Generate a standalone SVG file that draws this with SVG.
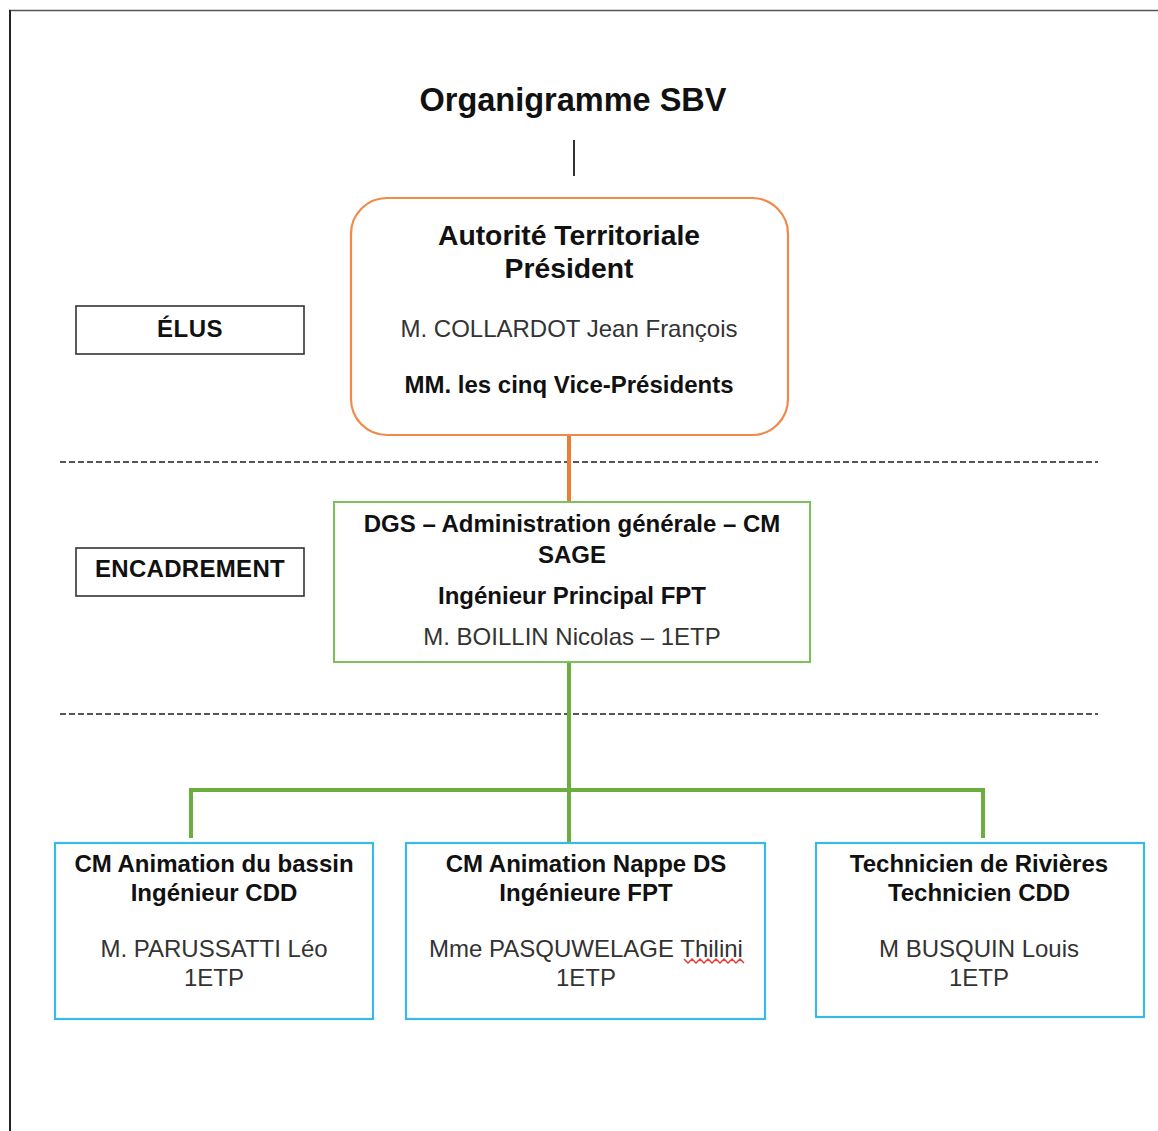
<svg xmlns="http://www.w3.org/2000/svg" width="1158" height="1131" viewBox="0 0 1158 1131">
<style>
text{font-family:"Liberation Sans",Arial,sans-serif;text-anchor:middle}
.b{font-weight:bold;fill:#111}
.r{fill:#333}
.f24{font-size:24px}
.lbl{fill:#fff;stroke:#333;stroke-width:1.6}
.blue{fill:#fff;stroke:#3BB8EA;stroke-width:2.2}
.dash{stroke:#555;stroke-width:2;stroke-dasharray:6 3;fill:none}
.g{stroke:#6BAE3E;stroke-width:4;fill:none}
</style>
<rect width="1158" height="1131" fill="#fff"/>
<g id="frame">
<line x1="9" y1="10.5" x2="1158" y2="10.5" stroke="#555" stroke-width="1.6"/>
<line x1="10" y1="10" x2="10" y2="1131" stroke="#222" stroke-width="2"/>
</g>
<g id="title">
<text x="573" y="111" class="b" font-size="32.5">Organigramme SBV</text>
<line x1="574" y1="140" x2="574" y2="176" stroke="#333" stroke-width="2"/>
</g>
<g id="separators">
<line x1="60" y1="462" x2="1098" y2="462" class="dash"/>
<line x1="60" y1="714" x2="1098" y2="714" class="dash"/>
</g>
<g id="connectors">
<line x1="569" y1="435" x2="569" y2="501" stroke="#ED7D31" stroke-width="4"/>
<line x1="569" y1="662" x2="569" y2="842" class="g"/>
<polyline points="191,838 191,790 983,790 983,838" class="g"/>
</g>
<g id="elus">
<rect x="76" y="306" width="228" height="48" class="lbl"/>
<text x="190" y="337" class="b f24" letter-spacing="0.5">ÉLUS</text>
</g>
<g id="encadrement">
<rect x="76" y="548" width="228" height="48" class="lbl"/>
<text x="190" y="577" class="b f24" font-size="23" letter-spacing="0.3">ENCADREMENT</text>
</g>
<g id="president">
<rect x="351" y="198" width="437" height="237" rx="36" ry="36" fill="#fff" stroke="#F0894A" stroke-width="2.2"/>
<text x="569" y="245" class="b" font-size="28.3">Autorité Territoriale</text>
<text x="569" y="278" class="b" font-size="28.3">Président</text>
<text x="569" y="337" class="r f24">M. COLLARDOT Jean François</text>
<text x="569" y="393" class="b f24">MM. les cinq Vice-Présidents</text>
</g>
<g id="dgs">
<rect x="334" y="502" width="476" height="160" fill="#fff" stroke="#7DC15B" stroke-width="2"/>
<text x="572" y="532" class="b f24">DGS – Administration générale – CM</text>
<text x="572" y="563" class="b f24">SAGE</text>
<text x="572" y="604" class="b f24">Ingénieur Principal FPT</text>
<text x="572" y="645" class="r f24">M. BOILLIN Nicolas – 1ETP</text>
</g>
<g id="bassin">
<rect x="55" y="843" width="318" height="176" class="blue"/>
<text x="214" y="872" class="b f24">CM Animation du bassin</text>
<text x="214" y="901" class="b f24">Ingénieur CDD</text>
<text x="214" y="957" class="r f24">M. PARUSSATTI Léo</text>
<text x="214" y="986" class="r f24">1ETP</text>
</g>
<g id="nappe">
<rect x="406" y="843" width="359" height="176" class="blue"/>
<text x="586" y="872" class="b f24">CM Animation Nappe DS</text>
<text x="586" y="901" class="b f24">Ingénieure FPT</text>
<text x="586" y="957" class="r f24">Mme PASQUWELAGE Thilini</text>
<path d="M684,959 l4,4 l4,-4 l4,4 l4,-4 l4,4 l4,-4 l4,4 l4,-4 l4,4 l4,-4 l4,4 l4,-4 l4,4 l4,-4 l4,4" fill="none" stroke="#E53935" stroke-width="1.5"/>
<text x="586" y="986" class="r f24">1ETP</text>
</g>
<g id="rivieres">
<rect x="816" y="843" width="328" height="174" class="blue"/>
<text x="979" y="872" class="b f24">Technicien de Rivières</text>
<text x="979" y="901" class="b f24">Technicien CDD</text>
<text x="979" y="957" class="r f24">M BUSQUIN Louis</text>
<text x="979" y="986" class="r f24">1ETP</text>
</g>
</svg>
